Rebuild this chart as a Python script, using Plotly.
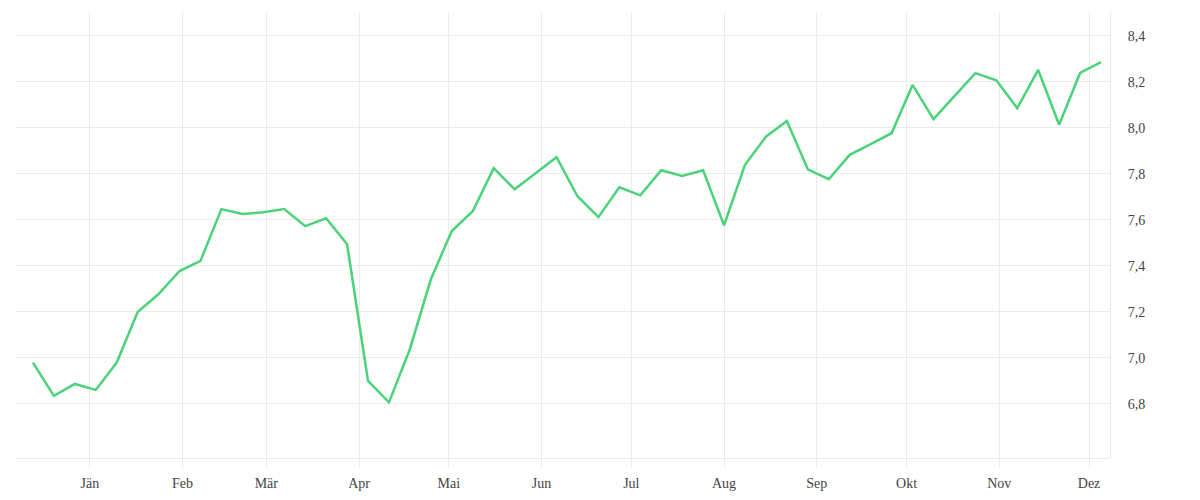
import pandas as pd
import plotly.graph_objs as go

# weekly values, Dec 2021 - Dec 2022
start_date = "2021-12-13"
values = [
    6.98, 6.835, 6.887, 6.861, 6.98, 7.2, 7.278, 7.378, 7.422, 7.647,
    7.626, 7.633, 7.647, 7.573, 7.607, 7.494, 6.9, 6.807, 7.039, 7.342,
    7.552, 7.638, 7.825, 7.733, 7.803, 7.873, 7.703, 7.612, 7.742, 7.707,
    7.816, 7.791, 7.816, 7.577, 7.84, 7.962, 8.03, 7.82, 7.777, 7.883,
    7.93, 7.977, 8.187, 8.038, 8.138, 8.238, 8.207, 8.086, 8.252, 8.014,
    8.239, 8.286,
]
month_ticks = ["2022-01-01", "2022-02-01", "2022-03-01", "2022-04-01", "2022-05-01", "2022-06-01",
               "2022-07-01", "2022-08-01", "2022-09-01", "2022-10-01", "2022-11-01", "2022-12-01"]
month_labels = ["Jän", "Feb", "Mär", "Apr", "Mai", "Jun", "Jul", "Aug", "Sep", "Okt", "Nov", "Dez"]
y_ticks = [6.8, 7.0, 7.2, 7.4, 7.6, 7.8, 8.0, 8.2, 8.4]

dates = pd.date_range(start_date, periods=len(values), freq="7D")
grid_col = "#ebebeb"

fig = go.Figure()
fig.add_trace(go.Scatter(x=dates, y=values, mode="lines",
                         line=dict(color="#4cd27b", width=2.5)))

# page body adds ~8px, so margins are trimmed to match
fig.update_layout(
    width=1200,
    height=500,
    margin=dict(l=7, r=98, t=4, b=50),
    plot_bgcolor="white",
    paper_bgcolor="white",
    showlegend=False,
    font=dict(family="Liberation Serif", size=14, color="#444444"),
)
fig.update_xaxes(
    range=["2021-12-07", "2022-12-08"],
    tickvals=month_ticks,
    ticktext=month_labels,
    showgrid=True,
    gridcolor=grid_col,
    showline=True,
    linecolor=grid_col,
    ticks="outside",
    tickcolor=grid_col,
    ticklen=9,
    ticklabelstandoff=3,
    zeroline=False,
)
fig.update_yaxes(
    range=[6.565, 8.504],
    side="right",
    tickvals=y_ticks,
    ticktext=[f"{v:.1f}".replace(".", ",") for v in y_ticks],
    showgrid=True,
    gridcolor=grid_col,
    showline=True,
    linecolor=grid_col,
    ticklabelstandoff=14,
    zeroline=False,
)

fig.write_html("out.html")
